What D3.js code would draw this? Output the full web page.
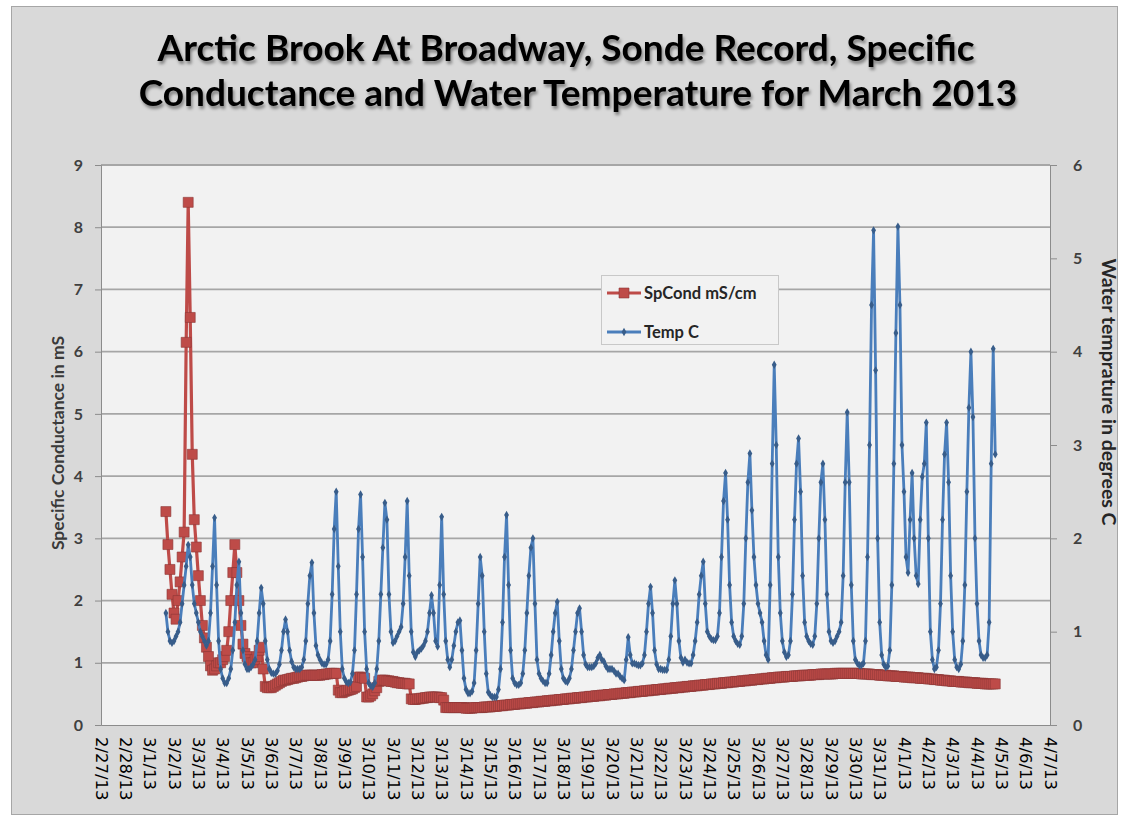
<!DOCTYPE html>
<html><head><meta charset="utf-8">
<script src="https://cdn.jsdelivr.net/npm/d3@7"></script>
<style>body{margin:0;background:#fff}</style>
</head><body><svg id="c" width="1128" height="822"></svg>
<script>
const titleLines = ["Arctic Brook At Broadway, Sonde Record, Specific", "Conductance and Water Temperature for March 2013"];
const leftTitle = "Specific Conductance in mS";
const rightTitle = "Water temprature in degrees C";
const seriesNames = ["SpCond mS/cm", "Temp C"];
const axisStart = new Date(2013, 1, 27);
const axisEnd = new Date(2013, 3, 7);
const startTime = new Date(2013, 2, 1, 16);
const stepHours = 2;
const leftTicks = [0, 1, 2, 3, 4, 5, 6, 7, 8, 9];
const rightTicks = [0, 1, 2, 3, 4, 5, 6];

// Specific conductance, mS/cm, every 2 h from 3/1 16:00
const spCond = [
  3.43, 2.9, 2.5, 2.1,
  1.8, 1.7, 2.0, 2.3, 2.7, 3.1, 6.15, 8.4, 6.55, 4.35, 3.3, 2.86,
  2.4, 2.0, 1.6, 1.4, 1.25, 1.1, 0.95, 0.88, 0.9, 0.95, 1.0, 1.0,
  1.05, 1.1, 1.2, 1.5, 2.0, 2.45, 2.9, 2.45, 2.0, 1.6, 1.3, 1.15,
  1.1, 1.05, 1.0, 1.0, 1.05, 1.1, 1.2, 1.25, 0.9, 0.62, 0.6, 0.6,
  0.6, 0.62, 0.64, 0.66, 0.68, 0.7, 0.72, 0.72, 0.73, 0.74, 0.75, 0.75,
  0.76, 0.77, 0.78, 0.78, 0.79, 0.8, 0.8, 0.8, 0.8, 0.8, 0.8, 0.8,
  0.8, 0.81, 0.81, 0.82, 0.82, 0.83, 0.83, 0.83, 0.83, 0.56, 0.52, 0.52,
  0.54, 0.55, 0.56, 0.57, 0.58, 0.6, 0.62, 0.77, 0.77, 0.76, 0.75, 0.45,
  0.45, 0.47, 0.5, 0.55, 0.6, 0.7, 0.72, 0.72, 0.72, 0.71, 0.71, 0.7,
  0.7, 0.69, 0.68, 0.68, 0.67, 0.67, 0.67, 0.66, 0.66, 0.42, 0.41, 0.41,
  0.42, 0.42, 0.43, 0.43, 0.44, 0.44, 0.45, 0.45, 0.45, 0.45, 0.45, 0.44,
  0.44, 0.4, 0.28, 0.28, 0.28, 0.28, 0.28, 0.28, 0.28, 0.28, 0.28, 0.28,
  0.27, 0.27, 0.27, 0.27, 0.28, 0.28, 0.28, 0.28, 0.28, 0.29, 0.29, 0.29,
  0.29, 0.3, 0.3, 0.3, 0.31, 0.31, 0.31, 0.32, 0.32, 0.32, 0.33, 0.33,
  0.33, 0.34, 0.34, 0.34, 0.35, 0.35, 0.35, 0.36, 0.36, 0.36, 0.37, 0.37,
  0.37, 0.38, 0.38, 0.38, 0.39, 0.39, 0.39, 0.4, 0.4, 0.4, 0.41, 0.41,
  0.41, 0.42, 0.42, 0.42, 0.43, 0.43, 0.43, 0.44, 0.44, 0.44, 0.45, 0.45,
  0.45, 0.46, 0.46, 0.46, 0.47, 0.47, 0.47, 0.48, 0.48, 0.48, 0.49, 0.49,
  0.49, 0.5, 0.5, 0.5, 0.51, 0.51, 0.51, 0.52, 0.52, 0.52, 0.53, 0.53,
  0.53, 0.54, 0.54, 0.54, 0.55, 0.55, 0.55, 0.56, 0.56, 0.56, 0.57, 0.57,
  0.57, 0.58, 0.58, 0.58, 0.59, 0.59, 0.59, 0.6, 0.6, 0.6, 0.61, 0.61,
  0.61, 0.62, 0.62, 0.62, 0.63, 0.63, 0.63, 0.64, 0.64, 0.64, 0.65, 0.65,
  0.65, 0.66, 0.66, 0.66, 0.67, 0.67, 0.67, 0.68, 0.68, 0.68, 0.69, 0.69,
  0.69, 0.7, 0.7, 0.7, 0.71, 0.71, 0.71, 0.72, 0.72, 0.72, 0.73, 0.73,
  0.73, 0.74, 0.74, 0.74, 0.75, 0.75, 0.75, 0.76, 0.76, 0.76, 0.77, 0.77,
  0.77, 0.77, 0.78, 0.78, 0.78, 0.78, 0.79, 0.79, 0.79, 0.79, 0.8, 0.8,
  0.8, 0.8, 0.8, 0.81, 0.81, 0.81, 0.81, 0.82, 0.82, 0.82, 0.82, 0.82,
  0.82, 0.82, 0.83, 0.83, 0.83, 0.83, 0.83, 0.83, 0.83, 0.83, 0.83, 0.83,
  0.83, 0.83, 0.83, 0.82, 0.82, 0.82, 0.82, 0.82, 0.81, 0.81, 0.81, 0.81,
  0.8, 0.8, 0.8, 0.8, 0.79, 0.79, 0.79, 0.79, 0.78, 0.78, 0.78, 0.78,
  0.77, 0.77, 0.77, 0.77, 0.76, 0.76, 0.76, 0.76, 0.75, 0.75, 0.75, 0.75,
  0.74, 0.74, 0.74, 0.73, 0.73, 0.73, 0.72, 0.72, 0.72, 0.71, 0.71, 0.71,
  0.7, 0.7, 0.7, 0.7, 0.69, 0.69, 0.69, 0.69, 0.68, 0.68, 0.68, 0.68,
  0.67, 0.67, 0.67, 0.67, 0.66, 0.66, 0.66, 0.66, 0.66, 0.66
];

// Water temperature, deg C, every 2 h from 3/1 16:00
const tempC = [
  1.2, 1.0, 0.9, 0.88,
  0.9, 0.95, 1.0, 1.1, 1.3, 1.5, 1.7, 1.93, 1.8, 1.5, 1.3, 1.2,
  1.1, 1.0, 0.95, 0.9, 0.85, 0.9, 1.2, 1.7, 2.22, 1.5, 0.9, 0.6,
  0.5, 0.45, 0.45, 0.5, 0.6, 0.8, 1.1, 1.5, 1.75, 1.2, 0.8, 0.65,
  0.6, 0.6, 0.62, 0.65, 0.7, 0.9, 1.2, 1.47, 1.3, 0.9, 0.7, 0.6,
  0.56, 0.55, 0.55, 0.58, 0.65, 0.8, 1.0, 1.13, 1.0, 0.8, 0.68, 0.62,
  0.6, 0.6, 0.6, 0.62, 0.7, 0.9, 1.3, 1.6, 1.74, 1.2, 0.85, 0.75,
  0.7, 0.66, 0.65, 0.65, 0.7, 0.9, 1.4, 2.1, 2.5, 1.7, 1.0, 0.6,
  0.5, 0.46, 0.45, 0.46, 0.55, 0.8, 1.4, 2.1, 2.47, 1.8, 1.0, 0.6,
  0.45, 0.42, 0.41, 0.45, 0.6, 0.9, 1.4, 1.9, 2.38, 2.2, 1.4, 1.0,
  0.88, 0.9, 0.95, 1.0, 1.05, 1.3, 1.8, 2.4, 1.6, 1.0, 0.78, 0.73,
  0.78, 0.8, 0.82, 0.85, 0.9, 1.0, 1.2, 1.39, 1.2, 0.9, 0.84, 1.5,
  2.23, 1.4, 0.9, 0.7, 0.62, 0.7, 0.85, 1.0, 1.1, 1.12, 0.8, 0.5,
  0.38, 0.34, 0.34, 0.36, 0.45, 0.8, 1.3, 1.8, 1.6, 1.0, 0.55, 0.35,
  0.32, 0.3, 0.3, 0.3, 0.38, 0.6, 1.1, 1.8, 2.25, 1.5, 0.8, 0.5,
  0.45, 0.43, 0.43, 0.45, 0.55, 0.8, 1.2, 1.6, 1.9, 2.0, 1.3, 0.7,
  0.55, 0.5, 0.47, 0.45, 0.45, 0.55, 0.75, 1.0, 1.2, 1.32, 0.9, 0.6,
  0.5, 0.47, 0.46, 0.5, 0.6, 0.8, 1.0, 1.2, 1.25, 1.0, 0.75, 0.65,
  0.62, 0.62, 0.62, 0.63, 0.66, 0.72, 0.75, 0.7, 0.68, 0.63, 0.6, 0.6,
  0.6, 0.58, 0.55, 0.55, 0.52, 0.5, 0.48, 0.7, 0.94, 0.75, 0.66, 0.66,
  0.65, 0.64, 0.64, 0.66, 0.75, 1.0, 1.3, 1.48, 1.2, 0.8, 0.65, 0.6,
  0.6, 0.59, 0.59, 0.59, 0.7, 0.95, 1.3, 1.55, 1.3, 0.9, 0.72, 0.67,
  0.7, 0.67, 0.66, 0.66, 0.75, 0.9, 1.1, 1.4, 1.6, 1.75, 1.3, 1.0,
  0.95, 0.92, 0.91, 0.91, 0.95, 1.2, 1.8, 2.4, 2.7, 2.2, 1.5, 1.1,
  0.95, 0.9, 0.87, 0.86, 0.95, 1.3, 2.0, 2.6, 2.91, 2.3, 1.8, 1.5,
  1.3, 1.2, 1.1, 0.9, 0.75, 0.7, 1.5, 2.8, 3.86, 3.0, 1.8, 1.2,
  0.9, 0.78, 0.73, 0.75, 0.9, 1.4, 2.2, 2.8, 3.07, 2.5, 1.6, 1.1,
  0.95, 0.9, 0.87, 0.86, 0.95, 1.3, 2.0, 2.6, 2.8, 2.2, 1.4, 1.0,
  0.9, 0.88, 0.9, 0.95, 1.0, 1.1, 1.6, 2.6, 3.35, 2.6, 1.5, 0.9,
  0.7, 0.66, 0.64, 0.64, 0.66, 0.9, 1.8, 3.0, 4.5, 5.3, 3.8, 2.0,
  1.1, 0.75, 0.65, 0.62, 0.63, 0.8, 1.5, 2.8, 4.2, 5.34, 4.5, 3.0,
  2.5, 1.8, 1.63, 2.2, 2.7, 2.0, 1.6, 1.51, 2.2, 2.66, 2.8, 3.24,
  2.0, 1.0, 0.7, 0.6, 0.62, 0.8, 1.3, 2.2, 2.9, 3.24, 2.6, 1.6,
  1.0, 0.7, 0.62, 0.6, 0.65, 0.9, 1.5, 2.5, 3.4, 4.0, 3.3, 2.0,
  1.3, 0.9, 0.75, 0.72, 0.72, 0.75, 1.1, 2.8, 4.03, 2.9
];

const plot = {left: 101, right: 1050, top: 165, bottom: 725};
const svg = d3.select("#c");

const defs = svg.append("defs");
const f = defs.append("filter").attr("id", "tshadow").attr("x", "-5%").attr("y", "-30%").attr("width", "110%").attr("height", "180%");
f.append("feDropShadow").attr("dx", 1.5).attr("dy", 3).attr("stdDeviation", 1.8).attr("flood-color", "#000").attr("flood-opacity", 0.4);

// chart area
svg.append("rect").attr("x", 11.5).attr("y", 6.5).attr("width", 1106).attr("height", 808)
  .attr("fill", "#d9d9d9").attr("stroke", "#a6a6a6").attr("stroke-width", 1);

// title
svg.append("g").attr("filter", "url(#tshadow)")
  .selectAll("text").data(titleLines).join("text")
  .attr("x", (d, i) => i === 0 ? 566 : 578).attr("y", (d, i) => 61 + i * 45)
  .attr("text-anchor", "middle")
  .attr("font-family", "Lato, 'Open Sans', sans-serif").attr("font-weight", "bold")
  .attr("font-size", 37).attr("fill", "#000").text(d => d);

// plot area
svg.append("rect").attr("x", plot.left).attr("y", plot.top)
  .attr("width", plot.right - plot.left).attr("height", plot.bottom - plot.top)
  .attr("fill", "#f2f2f2");

const x = d3.scaleTime().domain([axisStart, axisEnd]).range([plot.left, plot.right]);
const yL = d3.scaleLinear().domain([0, 9]).range([plot.bottom, plot.top]);
const yR = d3.scaleLinear().domain([0, 6]).range([plot.bottom, plot.top]);

// gridlines
svg.append("g").selectAll("line").data(leftTicks.filter(d => d > 0)).join("line")
  .attr("x1", plot.left).attr("x2", plot.right)
  .attr("y1", d => yL(d)).attr("y2", d => yL(d))
  .attr("stroke", "#a6a6a6").attr("stroke-width", 1.8);

// left axis
const gL = svg.append("g").attr("transform", `translate(${plot.left},0)`)
  .call(d3.axisLeft(yL).tickValues(leftTicks).tickSize(6).tickPadding(12).tickFormat(d3.format("d")));
gL.select(".domain").attr("stroke", "#8c8c8c");
gL.selectAll(".tick line").attr("stroke", "#8c8c8c");
gL.selectAll("text").attr("font-family", "Lato, sans-serif").attr("font-weight", "bold")
  .attr("font-size", 16).attr("fill", "#404040");

// right axis
const gR = svg.append("g").attr("transform", `translate(${plot.right},0)`)
  .call(d3.axisRight(yR).tickValues(rightTicks).tickSize(7).tickPadding(16).tickFormat(d3.format("d")));
gR.select(".domain").attr("stroke", "#8c8c8c");
gR.selectAll(".tick line").attr("stroke", "#8c8c8c");
gR.selectAll("text").attr("font-family", "Lato, sans-serif").attr("font-weight", "bold")
  .attr("font-size", 16).attr("fill", "#404040");

// bottom axis
const days = d3.timeDay.range(axisStart, d3.timeDay.offset(axisEnd, 1));
const fmt = d3.timeFormat("%-m/%-d/%y");
const gB = svg.append("g").attr("transform", `translate(0,${plot.bottom})`)
  .call(d3.axisBottom(x).tickValues(days).tickSize(0).tickFormat(fmt));
gB.select(".domain").attr("stroke", "#8c8c8c");
gB.selectAll("text")
  .attr("font-family", "'DejaVu Sans', sans-serif").attr("font-size", 16.5).attr("fill", "#000")
  .attr("text-anchor", "start").attr("transform", "translate(0,12) rotate(90)")
  .attr("x", 0).attr("y", 0).attr("dy", "0.35em");

// axis titles
svg.append("text").attr("transform", "translate(64,443) rotate(-90)")
  .attr("text-anchor", "middle").attr("font-family", "Lato, sans-serif").attr("font-weight", "bold")
  .attr("font-size", 17.5).attr("fill", "#3a3a3a").text(leftTitle);
svg.append("text").attr("transform", "translate(1102,392) rotate(90)")
  .attr("text-anchor", "middle").attr("font-family", "Lato, sans-serif").attr("font-weight", "bold")
  .attr("font-size", 19.5).attr("fill", "#262626").text(rightTitle);

// series
const t = i => d3.timeHour.offset(startTime, i * stepHours);
const redData = spCond.map((v, i) => ({t: t(i), v}));
const blueData = tempC.map((v, i) => ({t: t(i), v}));

const red = "#be4b48", redDark = "#8c3836", blue = "#4a7ebb", blueDark = "#385d8a";
const sq = d3.symbol().type(d3.symbolSquare).size(100);
const dia = d3.symbol().type(d3.symbolDiamond).size(20);

const gRed = svg.append("g");
gRed.append("path").datum(redData)
  .attr("d", d3.line().x(d => x(d.t)).y(d => yL(d.v)))
  .attr("fill", "none").attr("stroke", red).attr("stroke-width", 3.2).attr("stroke-linejoin", "round");
gRed.selectAll("path.m").data(redData).join("path").attr("class", "m")
  .attr("transform", d => `translate(${x(d.t)},${yL(d.v)})`).attr("d", sq)
  .attr("fill", red).attr("stroke", redDark).attr("stroke-width", 0.6);

const gBlue = svg.append("g");
gBlue.append("path").datum(blueData)
  .attr("d", d3.line().x(d => x(d.t)).y(d => yR(d.v)))
  .attr("fill", "none").attr("stroke", blue).attr("stroke-width", 2.8).attr("stroke-linejoin", "round");
gBlue.selectAll("path.m").data(blueData).join("path").attr("class", "m")
  .attr("transform", d => `translate(${x(d.t)},${yR(d.v)})`).attr("d", dia)
  .attr("fill", blueDark).attr("stroke", "none");

// legend
const lg = svg.append("g").attr("transform", "translate(601,275)");
lg.append("rect").attr("x", 0.5).attr("y", 0.5).attr("width", 177).attr("height", 69)
  .attr("fill", "#f2f2f2").attr("stroke", "#c8c8c8");
const items = [
  {name: seriesNames[0], color: red, dark: redDark, sym: sq, w: 3.2},
  {name: seriesNames[1], color: blue, dark: blueDark, sym: dia, w: 2.8}
];
const li = lg.selectAll("g.it").data(items).join("g").attr("class", "it")
  .attr("transform", (d, i) => `translate(0,${18 + i * 39})`);
li.append("line").attr("x1", 6).attr("x2", 40).attr("stroke", d => d.color).attr("stroke-width", d => d.w);
li.append("path").attr("transform", "translate(23,0)").attr("d", d => d.sym())
  .attr("fill", (d, i) => i === 0 ? d.color : d.dark).attr("stroke", (d, i) => i === 0 ? d.dark : "none").attr("stroke-width", 0.6);
li.append("text").attr("x", 43).attr("dy", "0.35em").attr("font-family", "Lato, sans-serif").attr("font-weight", "bold")
  .attr("font-size", 16.5).attr("fill", "#262626").text(d => d.name);
</script>
</body></html>
